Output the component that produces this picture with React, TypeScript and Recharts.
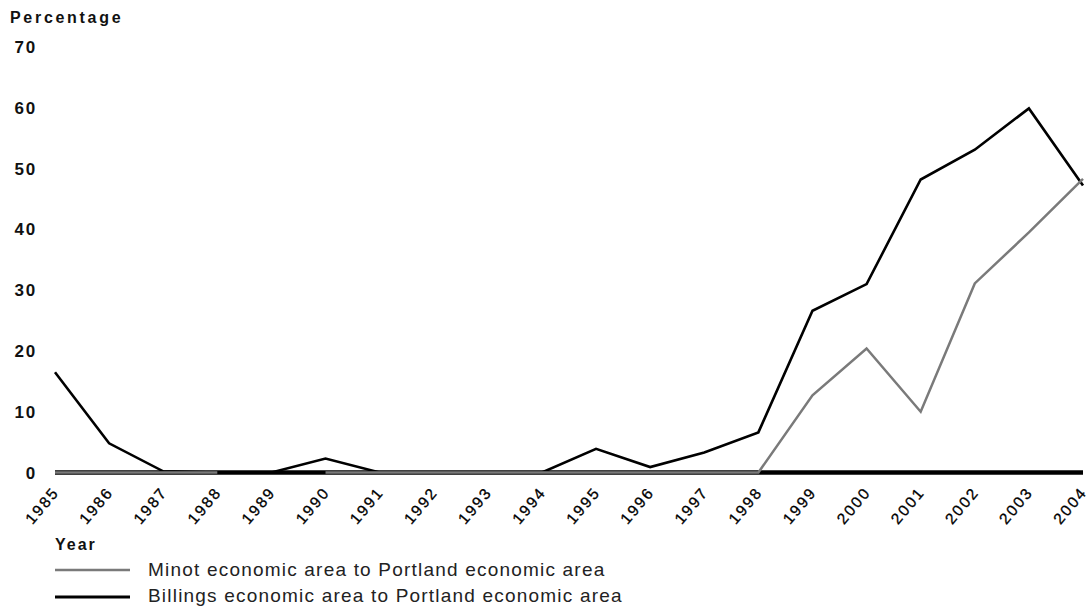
import React from 'react';
import { LineChart, Line, XAxis, YAxis, Customized } from 'recharts';

const years = ['1985','1986','1987','1988','1989','1990','1991','1992','1993','1994','1995','1996','1997','1998','1999','2000','2001','2002','2003','2004'];
const billings = [16.5, 4.8, 0.2, 0, 0, 2.3, 0, 0, 0, 0, 3.9, 0.9, 3.3, 6.6, 26.6, 31, 48.2, 53.1, 59.9, 47.2];
const minot: (number | null)[] = [0, 0, 0, 0, null, 0, 0, 0, 0, 0, 0, 0, 0, 0, 12.7, 20.4, 10, 31.1, 39.5, 48.3];
const axisBase = years.map(() => 0);
const yTicks = [0, 10, 20, 30, 40, 50, 60, 70];

const minotName = 'Minot economic area to Portland economic area';
const billingsName = 'Billings economic area to Portland economic area';
const minotColor = '#7a7a7a';
const billingsColor = '#000000';

const data = years.map((y, i) => ({ year: y, billings: billings[i], minot: minot[i], base: axisBase[i] }));

const FONT = '"Liberation Sans", Arial, Helvetica, sans-serif';

const YTick = (props: any) => {
  const { y, payload } = props;
  return (
    <text x={37} y={y} dy={6} textAnchor="end" fontFamily={FONT} fontWeight="bold" fontSize={17} letterSpacing={1.8} fill="#111">
      {payload.value}
    </text>
  );
};

const XTick = (props: any) => {
  const { x, y, payload } = props;
  return (
    <g transform={`translate(${x + 5},${y + 12})`}>
      <text x={0} y={0} textAnchor="end" transform="rotate(-50)" fontFamily={FONT} fontSize={15.5} letterSpacing={2.1} fill="#000" stroke="#000" strokeWidth={0.3}>
        {payload.value}
      </text>
    </g>
  );
};

const Title = () => (
  <text x={10} y={23} fontFamily={FONT} fontWeight="bold" fontSize={16} letterSpacing={2.7} fill="#111">
    Percentage
  </text>
);

const LegendBlock = () => (
  <g>
    <text x={55} y={550} fontFamily={FONT} fontWeight="bold" fontSize={16} letterSpacing={2} fill="#111">Year</text>
    <line x1={55} x2={130} y1={570} y2={570} stroke={minotColor} strokeWidth={2.5} />
    <text x={148} y={576} fontFamily={FONT} fontSize={19} letterSpacing={1.2} fill="#222">{minotName}</text>
    <line x1={55} x2={130} y1={597} y2={597} stroke={billingsColor} strokeWidth={3} />
    <text x={148} y={602} fontFamily={FONT} fontSize={19} letterSpacing={1.2} fill="#222">{billingsName}</text>
  </g>
);

export default function App() {
  return (
    <div style={{ position: 'absolute', left: 0, top: 0, width: 1091, height: 606, background: '#fff' }}>
      <LineChart width={1091} height={606} data={data} margin={{ top: 47, right: 8, bottom: 0, left: 0 }}>
        <XAxis
          dataKey="year"
          interval={0}
          height={133.5}
          tick={<XTick />}
          tickLine={false}
          axisLine={false}
          padding={{ left: 0, right: 0 }}
        />
        <YAxis
          width={55}
          domain={[0, 70]}
          ticks={yTicks}
          tick={<YTick />}
          tickLine={false}
          axisLine={false}
        />
        <Line type="linear" dataKey="base" stroke="#000" strokeWidth={4.5} dot={false} activeDot={false} isAnimationActive={false} legendType="none" />
        <Line type="linear" dataKey="billings" name={billingsName} stroke={billingsColor} strokeWidth={2.6} dot={false} isAnimationActive={false} />
        <Line type="linear" dataKey="minot" name={minotName} stroke={minotColor} strokeWidth={2.5} dot={false} isAnimationActive={false} connectNulls={false} />
        <Customized component={Title} />
        <Customized component={LegendBlock} />
      </LineChart>
    </div>
  );
}
